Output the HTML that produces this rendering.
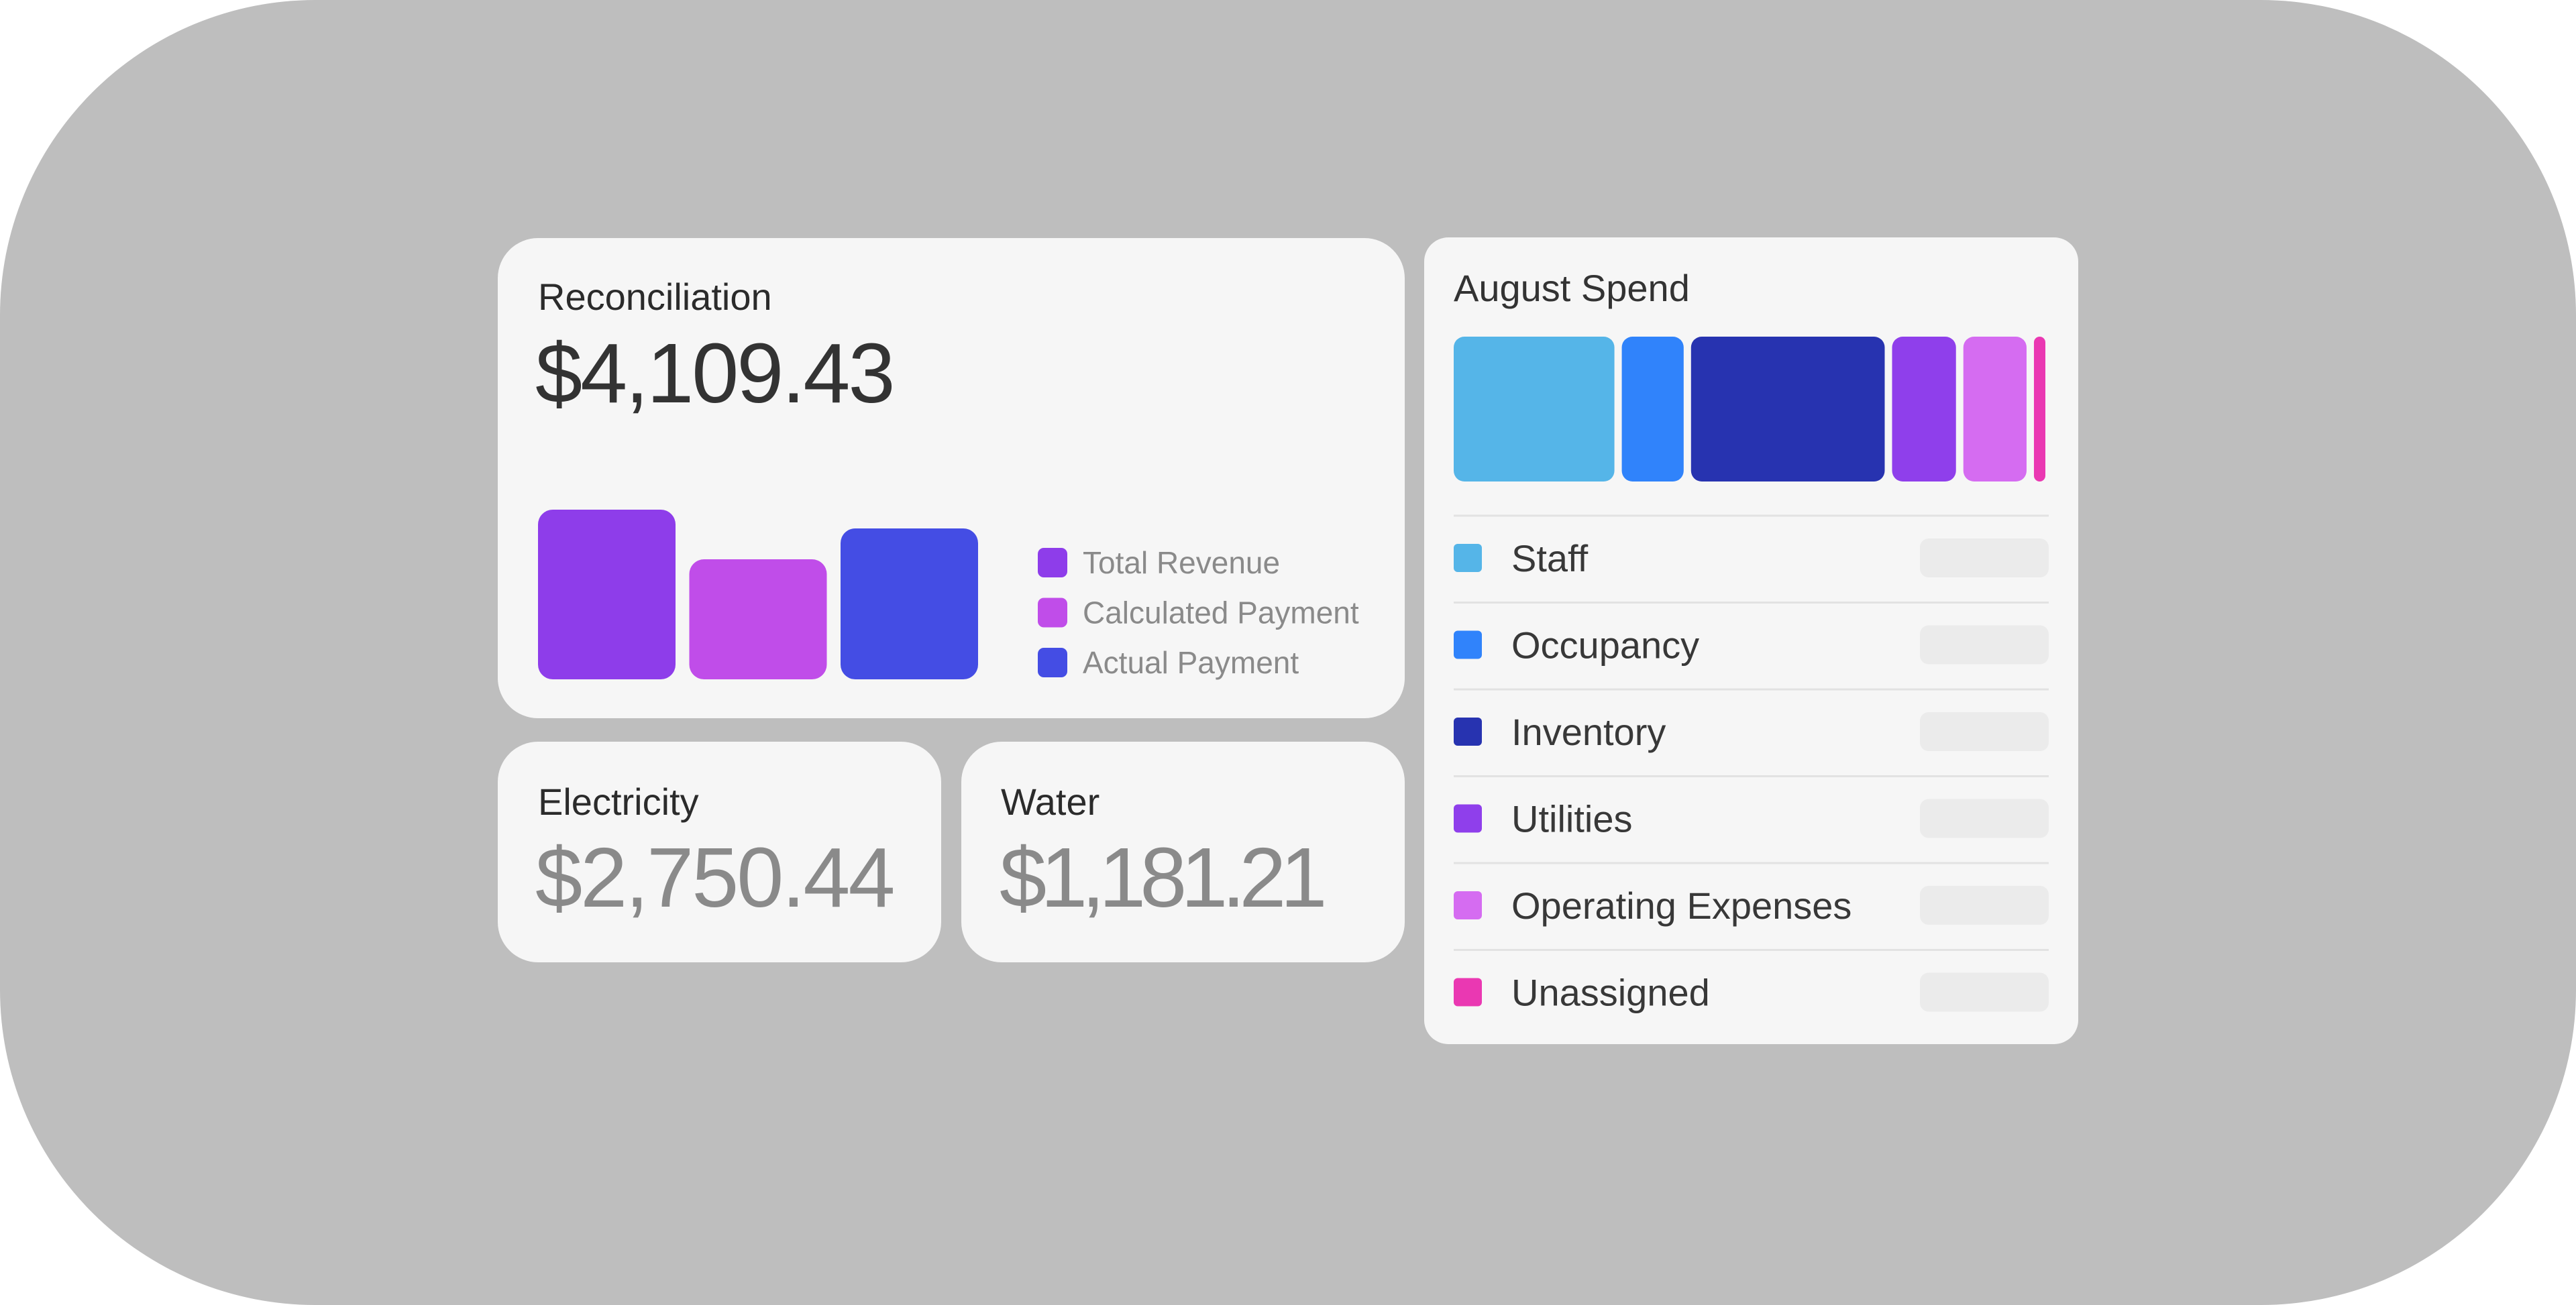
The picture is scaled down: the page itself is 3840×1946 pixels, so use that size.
<!DOCTYPE html>
<html><head><meta charset="utf-8">
<style>
html,body{margin:0;padding:0;width:3840px;height:1946px;background:#fff;overflow:hidden;font-family:"Liberation Sans",sans-serif;}
#bg{position:absolute;left:0;top:0;width:3840px;height:1946px;background:#bebebe;border-radius:470px;}
.card{position:absolute;background:#f6f6f6;border-radius:60px;}
.t{position:absolute;white-space:nowrap;}
</style></head><body>
<div id="bg"></div>

<div class="card" style="left:742px;top:355px;width:1352px;height:716px;"></div>
<div class="t" style="left:802px;top:410px;font-size:56px;color:#2b2b2b;">Reconciliation</div>
<div class="t" style="left:798px;top:484px;font-size:126px;color:#333;letter-spacing:-3px;">$4,109.43</div>
<svg id="recon" style="position:absolute;left:0;top:0" width="3840" height="1946"></svg>

<div class="card" style="left:742px;top:1106px;width:661px;height:329px;"></div>
<div class="t" style="left:802px;top:1163px;font-size:56px;color:#2b2b2b;">Electricity</div>
<div class="t" style="left:798px;top:1236px;font-size:126px;color:#8a8a8a;letter-spacing:-3px;">$2,750.44</div>

<div class="card" style="left:1433px;top:1106px;width:661px;height:329px;"></div>
<div class="t" style="left:1492px;top:1163px;font-size:56px;color:#2b2b2b;">Water</div>
<div class="t" style="left:1490px;top:1236px;font-size:126px;color:#8a8a8a;letter-spacing:-9px;">$1,181.21</div>

<div class="card" style="left:2123px;top:354px;width:975px;height:1203px;border-radius:36px;"></div>
<div class="t" style="left:2167px;top:397px;font-size:56px;color:#333;">August Spend</div>
<svg id="spend" style="position:absolute;left:0;top:0" width="3840" height="1946"></svg>

<script>
const reconCategories = ["Total Revenue","Calculated Payment","Actual Payment"];
const reconValues = [4109.43, 2907.00, 3655.00];
const reconColors = ["#8e3dea","#c04de9","#444de4"];

const spendCategories = ["Staff","Occupancy","Inventory","Utilities","Operating Expenses","Unassigned"];
const spendValues = [239, 92, 288, 95, 94, 17];
const spendColors = ["#55b5e8","#3083fb","#2733b0","#8f3feb","#d56cf1","#ea38b2"];

const NS="http://www.w3.org/2000/svg";
function mk(svg,tag,attrs){const e=document.createElementNS(NS,tag);for(const k in attrs)e.setAttribute(k,attrs[k]);svg.appendChild(e);return e;}

const rs=document.getElementById('recon');
const baseY=1013, maxH=253, barW=205, x0=802, step=225.5;
const maxV=Math.max(...reconValues);
function yScale(v){return baseY - v/maxV*maxH;}
reconValues.forEach((v,i)=>{
  const y=yScale(v);
  const r=mk(rs,'rect',{x:x0+i*step,y:y,width:barW,height:baseY-y,rx:22,fill:reconColors[i]});
  
  
});
reconCategories.forEach((c,i)=>{
  const cy=839+i*74.5;
  const s=mk(rs,'rect',{x:1547,y:cy-22,width:44,height:44,rx:9,fill:reconColors[i]});
  
  
  const t=mk(rs,'text',{x:1614,y:cy+16,'font-size':46,fill:'#8a8a8a','font-family':'Liberation Sans, sans-serif'});
  t.textContent=c;
  
  
});

const ss=document.getElementById('spend');
const sx0=2167, sx1=3049, gap=11, barTop=502, bh=216;
const total=spendValues.reduce((a,b)=>a+b,0);
const avail=(sx1-sx0)-gap*(spendValues.length-1);
let cx=sx0;
spendValues.forEach((v,i)=>{
  const w=v/total*avail;
  const r=mk(ss,'rect',{x:cx,y:barTop,width:w,height:bh,rx:Math.min(16,w/2),fill:spendColors[i]});
  
  
  cx+=w+gap;
});
spendCategories.forEach((c,i)=>{
  const ly=769+i*129.5;
  const l=mk(ss,'rect',{x:2167,y:ly-1.5,width:887,height:3,fill:'#e2e2e2'});
  
  
  const cy=ly+63;
  const s=mk(ss,'rect',{x:2167,y:cy-21,width:42,height:42,rx:6,fill:spendColors[i]});
  
  
  const t=mk(ss,'text',{x:2253,y:cy+20,'font-size':56,fill:'#383838','font-family':'Liberation Sans, sans-serif'});
  t.textContent=c;
  
  
  const p=mk(ss,'rect',{x:2862,y:cy-29,width:192,height:58,rx:13,fill:'#ebebeb'});
  
  
});
</script>
</body></html>
